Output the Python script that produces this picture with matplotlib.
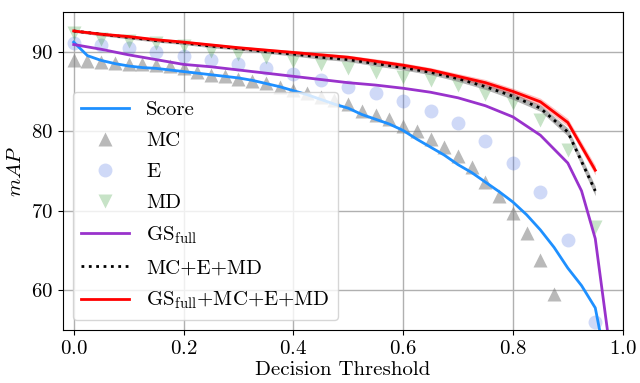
import numpy as np
import matplotlib
matplotlib.use('Agg')
import matplotlib.pyplot as plt

plt.rcParams['font.family'] = 'serif'
plt.rcParams['font.serif'] = ['cmr10']
plt.rcParams['mathtext.fontset'] = 'cm'
plt.rcParams['axes.formatter.use_mathtext'] = True
plt.rcParams['font.size'] = 15

# decision thresholds
t_fine = [0.0, 0.025, 0.05, 0.075, 0.1, 0.125, 0.15, 0.175, 0.2, 0.225,
          0.25, 0.275, 0.3, 0.325, 0.35, 0.375, 0.4, 0.425, 0.45, 0.475,
          0.5, 0.525, 0.55, 0.575, 0.6, 0.625, 0.65, 0.675, 0.7, 0.725,
          0.75, 0.775, 0.8, 0.825, 0.85, 0.875, 0.9, 0.925, 0.95, 0.975]
t_coarse = [0.0, 0.05, 0.1, 0.15, 0.2, 0.25, 0.3, 0.35, 0.4, 0.45,
            0.5, 0.55, 0.6, 0.65, 0.7, 0.75, 0.8, 0.85, 0.9, 0.95]

score = [91.2, 89.5, 88.9, 88.5, 88.2, 88.0, 87.9, 87.7, 87.5, 87.3,
         87.1, 86.9, 86.7, 86.4, 86.0, 85.6, 85.1, 84.6, 84.0, 83.4,
         82.9, 82.1, 81.5, 80.9, 80.1, 79.0, 78.0, 77.0, 75.8, 74.8,
         73.6, 72.4, 71.1, 69.5, 67.6, 65.4, 62.8, 60.6, 57.8, 49.0]

mc = [88.9, 88.8, 88.7, 88.6, 88.5, 88.4, 88.3, 88.2, 88.0, 87.4,
      87.1, 86.9, 86.6, 86.3, 86.0, 85.6, 85.2, 84.8, 84.3, 83.9,
      83.4, 82.6, 82.1, 81.5, 80.6, 80.0, 79.0, 78.0, 76.9, 75.5,
      73.6, 71.9, 69.7, 67.2, 63.8, 59.6, 53.0, 45.0, 35.0, 20.0]

e = [91.1, 90.8, 90.5, 89.95, 89.4, 88.9, 88.4, 87.9, 87.2, 86.5,
     85.6, 84.8, 83.8, 82.5, 81.0, 78.8, 76.0, 72.3, 66.3, 56.0]

md = [92.3, 91.6, 91.4, 91.1, 90.7, 90.1, 89.7, 89.3, 88.8, 88.4,
      87.9, 87.4, 86.8, 86.4, 85.8, 84.7, 83.5, 81.4, 77.7, 68.0]

t_gs = [0.0, 0.05, 0.1, 0.15, 0.2, 0.25, 0.3, 0.35, 0.4, 0.45, 0.5,
        0.55, 0.6, 0.65, 0.7, 0.75, 0.8, 0.85, 0.9, 0.925, 0.95, 0.975]
gs_full = [90.9, 90.3, 89.6, 89.0, 88.4, 88.1, 87.7, 87.3, 86.9, 86.5, 86.1,
           85.8, 85.4, 84.9, 84.2, 83.2, 81.8, 79.5, 76.0, 72.5, 66.5, 53.5]

mc_e_md = [92.6, 92.2, 91.8, 91.4, 91.1, 90.7, 90.4, 90.0, 89.7, 89.3,
           89.0, 88.5, 88.0, 87.4, 86.6, 85.6, 84.4, 82.9, 79.9, 72.5]
mc_e_md_std = [0.15, 0.2, 0.2, 0.2, 0.2, 0.2, 0.2, 0.2, 0.25, 0.25,
               0.25, 0.3, 0.3, 0.3, 0.35, 0.35, 0.4, 0.4, 0.5, 0.6]

all_comb = [92.6, 92.2, 91.9, 91.5, 91.2, 90.85, 90.5, 90.2, 89.9, 89.6,
            89.3, 88.8, 88.3, 87.7, 86.9, 86.1, 85.0, 83.7, 81.1, 75.1]
all_comb_std = [0.15, 0.2, 0.2, 0.2, 0.2, 0.2, 0.2, 0.2, 0.25, 0.25,
                0.25, 0.3, 0.3, 0.3, 0.35, 0.4, 0.4, 0.45, 0.5, 0.6]

fig, ax = plt.subplots(figsize=(6.4, 3.83), dpi=100)
fig.subplots_adjust(left=0.098, right=0.973, top=0.969, bottom=0.138)

ax.plot(t_fine, score, '-', color='#1e90ff', lw=2, label='Score', zorder=3)
ax.plot(t_fine, mc, '^', color='grey', alpha=0.55, ms=10, mec='none', label='MC', zorder=2)
ax.plot(t_coarse, e, 'o', color='royalblue', alpha=0.25, ms=10, mec='none', label='E', zorder=2)
ax.plot(t_coarse, md, 'v', color='green', alpha=0.22, ms=10, mec='none', label='MD', zorder=2)
ax.plot(t_gs, gs_full, '-', color='darkorchid', lw=2, label=r'GS$_{\mathrm{full}}$', zorder=3)

lo = np.array(mc_e_md) - np.array(mc_e_md_std)
hi = np.array(mc_e_md) + np.array(mc_e_md_std)
ax.fill_between(t_coarse, lo, hi, color='grey', alpha=0.6, lw=0, zorder=3)
ax.plot(t_coarse, mc_e_md, ':', color='black', lw=2, label='MC+E+MD', zorder=4)

lo = np.array(all_comb) - np.array(all_comb_std)
hi = np.array(all_comb) + np.array(all_comb_std)
ax.fill_between(t_coarse, lo, hi, color='red', alpha=0.25, lw=0, zorder=3)
ax.plot(t_coarse, all_comb, '-', color='red', lw=2, label=r'GS$_{\mathrm{full}}$+MC+E+MD', zorder=4)

ax.set_xlim(-0.02, 1.0)
ax.set_ylim(55, 95)
ax.set_xticks([0.0, 0.2, 0.4, 0.6, 0.8, 1.0])
ax.set_yticks([60, 70, 80, 90])
ax.grid(True, color='#b0b0b0', lw=1)
ax.set_axisbelow(True)
ax.set_xlabel('Decision Threshold', labelpad=2)
ax.set_ylabel(r'$mAP$')

ax.legend(loc='lower left', handlelength=2.3, labelspacing=0.6)

plt.savefig('out.png', dpi=100)
